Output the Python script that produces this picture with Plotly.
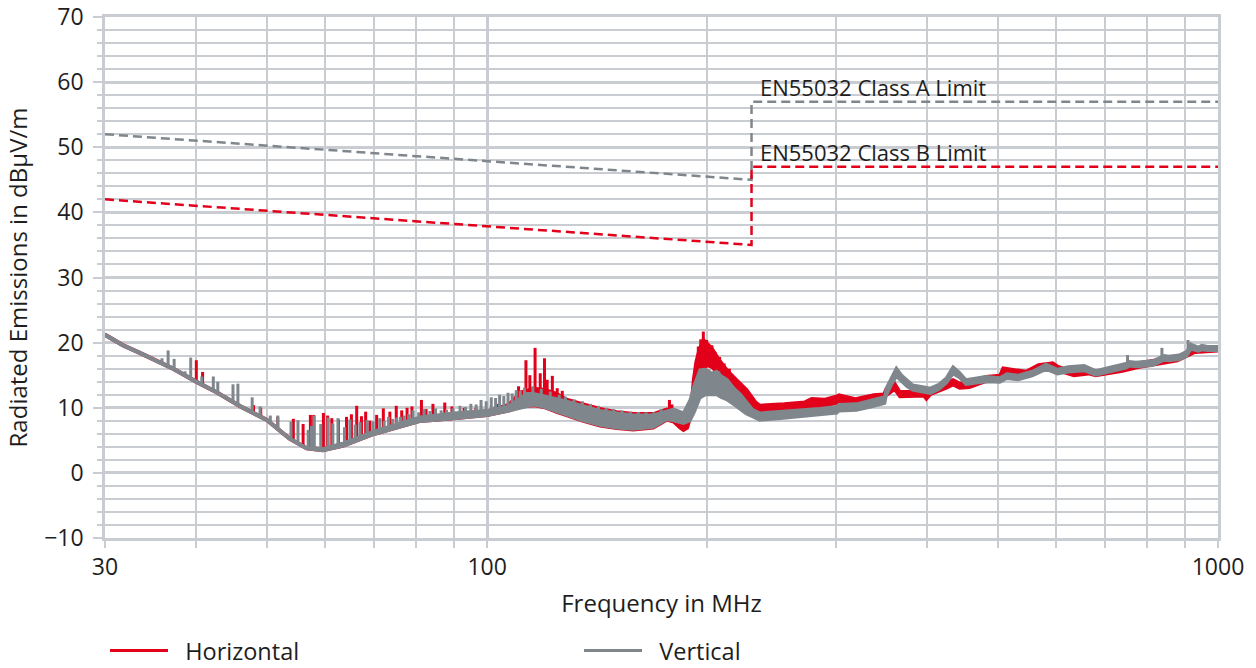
import math
import plotly.graph_objects as go

# ---------------- data ----------------
# Horizontal polarisation (red): band envelope
h_freq = [30, 31.75, 33.5, 35.2, 37.2, 40, 42.6, 46, 50, 53.6, 56.6, 59.6, 63.6, 70, 76, 81, 90, 100, 107,
          111, 116, 120, 124.5, 128.5, 135.4, 142.7, 150.4, 158.5, 168.8, 176.1, 180, 183.5, 185.6, 188, 190,
          191.5, 193, 195, 197.6, 199.7, 203, 208, 213, 219.5, 226.5, 233, 236, 255, 272, 278, 290, 301, 303,
          319, 338, 349, 351, 361, 367, 396, 399, 404, 425, 434, 443, 457, 481, 503, 508, 546, 568, 594, 603,
          635, 665, 680, 740, 780, 830, 880, 930, 1000]
h_high = [21.3, 19.7, 18.5, 17.4, 16.1, 14.1, 12.5, 10.3, 8.2, 5.4, 3.9, 3.7, 4.5, 6.3, 7.4, 8.3, 8.9, 9.5, 10.5,
          12.4, 13.0, 12.8, 12.2, 11.3, 10.6, 9.9, 9.4, 9.1, 9.1, 9.8, 9.6, 8.3, 7.3, 8.0, 10.0,
          14.3, 17.0, 19.0, 20.5, 20.0, 19.2, 17.3, 15.8, 14.3, 12.8, 10.9, 10.4, 10.6, 10.9, 11.4, 11.3, 11.8, 12.0,
          11.4, 12.0, 12.1, 12.8, 13.8, 12.5, 12.5, 12.0, 12.8, 13.8, 14.3, 13.8, 13.8, 14.8, 15.0, 16.1, 15.6, 16.6, 16.9, 16.4,
          15.5, 15.9, 15.5, 16.3, 16.9, 17.4, 17.9, 19.2, 19.3]
h_low = [21.1, 19.5, 18.3, 17.2, 15.9, 13.9, 12.3, 10.1, 8.0, 5.2, 3.7, 3.4, 4.1, 5.9, 7.0, 7.9, 8.3, 8.8, 9.5,
         10.1, 10.3, 10.0, 9.3, 8.8, 7.9, 7.2, 6.8, 6.6, 6.9, 8.1, 7.8, 6.9, 6.5, 6.9, 8.5,
         10.0, 12.0, 13.5, 15.5, 16.5, 16.2, 15.0, 13.8, 12.0, 11.0, 9.6, 9.3, 9.5, 9.7, 10.2, 10.2, 10.7, 10.9,
         10.5, 11.0, 11.2, 11.8, 12.8, 11.7, 11.8, 11.3, 12.0, 13.0, 13.5, 13.0, 13.1, 14.0, 14.2, 15.3, 14.9, 15.8, 16.1, 15.7,
         14.9, 15.2, 14.9, 15.6, 16.2, 16.7, 17.2, 18.5, 18.7]
# Horizontal: narrow emission peaks (frequency, foot, top)
h_spike_freq = [40.0, 40.8, 47.9, 49.0, 51.7, 54.3, 56.0, 57.3, 57.9, 59.7, 60.5, 61.3, 62.6, 64.2, 65.2, 66.3,
                67.3, 68.2, 69.1, 70.6, 72.1, 73.6, 75.1, 76.4, 77.7, 78.9, 81.3, 82.5, 84.3, 87.5, 89.5, 93.0,
                96.5, 103.0, 110.4, 113.0, 114.4, 116.3, 118.2, 119.8, 120.8, 122.8, 124.7, 126.7, 177.6, 179.0,
                194.5, 196.0, 197.6, 199.7, 201.0, 203.0, 205.0, 208.0, 211.0, 214.5]
h_spike_foot = [13.9, 13.4, 9.0, 8.6, 6.9, 4.8, 4.0, 3.6, 3.5, 3.4, 3.5, 3.6, 3.8, 4.3, 4.6, 5.0,
                5.2, 5.5, 5.8, 6.1, 6.5, 6.7, 6.9, 7.1, 7.2, 7.4, 7.9, 8.0, 8.1, 8.2, 8.3, 8.5,
                8.7, 9.1, 11.0, 12.0, 12.0, 12.0, 12.0, 12.0, 12.0, 11.8, 11.5, 11.0, 9.0, 9.0,
                16.0, 17.0, 17.0, 17.0, 17.0, 16.5, 16.0, 15.5, 15.0, 14.0]
h_spike_top = [17.3, 15.5, 10.4, 10.0, 8.6, 8.3, 7.5, 8.9, 8.9, 9.2, 8.8, 8.4, 8.2, 8.6, 9.0, 10.3,
               8.7, 9.4, 8.0, 8.9, 9.9, 9.4, 10.3, 9.6, 10.0, 10.2, 11.2, 9.8, 10.6, 10.8, 10.2, 10.0,
               10.0, 10.6, 13.3, 17.3, 15.0, 19.2, 15.3, 17.6, 14.3, 14.9, 13.0, 12.6, 11.2, 10.5,
               19.4, 20.5, 21.7, 20.4, 19.3, 19.6, 18.6, 17.8, 16.8, 16.0]

# Vertical polarisation (gray): band envelope
v_freq = [30, 31.75, 33.5, 35.2, 37.2, 40, 42.6, 46, 50, 53.6, 56.6, 59.6, 63.6, 70, 76, 81, 90, 100, 107,
          113.3, 115.7, 119.4, 124.5, 128.5, 135.4, 142.7, 150.4, 158.5, 168.8, 176.1, 180, 185.6, 189.5, 192,
          195.5, 199, 203, 206, 209, 213, 218, 222, 226, 231, 236, 250, 272, 285, 301, 303, 320, 335, 350,
          351.5, 357, 363, 369, 375, 382, 396, 404, 415, 425, 434, 443, 452, 481, 503, 514, 533, 557, 582,
          603, 624, 656, 680, 715, 748, 757, 772, 814, 832, 844, 856, 885, 906, 918, 925, 940, 950, 968, 1000]
v_high = [21.3, 19.7, 18.5, 17.4, 16.1, 14.1, 12.5, 10.3, 8.2, 5.4, 3.9, 3.7, 4.6, 6.4, 7.6, 8.6, 9.2, 9.6, 10.2,
          12.2, 12.2, 11.9, 11.4, 11.0, 10.3, 9.6, 9.2, 8.9, 8.9, 9.5, 9.8, 9.2, 11.2, 13.5,
          15.8, 15.9, 15.3, 15.6, 14.9, 14.3, 12.9, 12.1, 11.0, 9.7, 9.2, 9.4, 9.7, 9.9, 10.2, 10.5, 10.6, 11.2, 11.7,
          13.0, 14.5, 16.1, 15.0, 14.3, 13.5, 13.2, 13.0, 13.6, 14.6, 16.3, 15.4, 14.3, 14.8, 14.6, 15.2, 15.0, 15.6, 16.7,
          15.9, 16.3, 16.5, 15.7, 16.3, 16.8, 17.1, 17.0, 17.2, 17.7, 18.0, 17.9, 18.1, 18.6, 19.8, 19.6, 19.3, 19.6, 19.4, 19.4]
v_low = [21.1, 19.5, 18.3, 17.2, 15.9, 13.9, 12.3, 10.1, 8.0, 5.2, 3.7, 3.4, 4.1, 5.9, 7.0, 7.9, 8.3, 8.8, 9.5,
         10.2, 10.4, 10.1, 9.4, 8.9, 8.0, 7.3, 6.9, 6.7, 7.0, 8.2, 8.0, 7.6, 8.0, 9.3,
         11.5, 12.0, 12.0, 12.0, 11.6, 11.2, 10.4, 9.7, 9.1, 8.6, 8.1, 8.3, 8.7, 8.9, 9.2, 9.5, 9.6, 10.1, 10.7,
         11.8, 13.4, 14.8, 14.0, 13.3, 12.7, 12.4, 12.2, 12.8, 13.8, 15.2, 14.6, 13.6, 14.0, 13.9, 14.5, 14.3, 14.9, 15.9,
         15.2, 15.5, 15.7, 15.0, 15.6, 16.1, 16.4, 16.3, 16.5, 17.0, 17.3, 17.2, 17.4, 17.9, 19.0, 18.9, 18.7, 18.9, 18.8, 18.8]
# Vertical: narrow emission peaks (frequency, foot, top)
v_spike_freq = [35.9, 36.6, 37.3, 38.6, 39.3, 40.7, 42.2, 42.8, 44.9, 45.6, 47.7, 48.9, 50.5, 51.7, 53.9, 55.1,
                56.9, 57.5, 58.0, 59.2, 60.6, 61.5, 62.5, 63.8, 64.9, 66.0, 67.0, 68.5, 69.8, 71.3, 72.3, 73.3,
                74.2, 75.2, 76.1, 77.0, 78.1, 79.2, 80.6, 82.0, 83.5, 85.0, 86.5, 88.0, 89.8, 91.8, 93.4, 95.0,
                96.6, 98.1, 99.7, 101.3, 102.7, 104.0, 105.4, 106.8, 108.2, 109.6, 111.0, 112.5, 115.5, 118.6,
                122.0, 125.5, 128.0, 131.5, 135.0, 138.5, 142.0, 145.5, 149.0, 153.0, 157.0, 161.0, 165.0,
                169.0, 173.0, 197.0, 201.0, 204.5, 207.5, 752.0, 838.0, 910.0]
v_spike_foot = [16.9, 16.5, 15.9, 15.1, 14.6, 13.5, 12.6, 12.2, 10.9, 10.5, 9.2, 8.6, 7.7, 6.9, 5.0, 4.4,
                3.7, 3.6, 3.5, 3.4, 3.5, 3.6, 3.8, 4.2, 4.5, 4.8, 5.2, 5.6, 5.9, 6.2, 6.4, 6.6,
                6.8, 6.9, 7.0, 7.1, 7.3, 7.4, 7.7, 7.9, 8.0, 8.0, 8.1, 8.2, 8.3, 8.4, 8.5, 8.6,
                8.7, 8.8, 8.8, 8.9, 9.0, 9.2, 9.3, 9.4, 9.5, 9.7, 9.9, 10.1, 10.3, 10.2,
                9.7, 9.3, 9.0, 8.6, 8.2, 7.9, 7.5, 7.2, 7.0, 6.9, 6.8, 6.8, 6.8,
                7.0, 7.6, 12.5, 12.5, 12.5, 12.5, 16.9, 17.6, 18.6]
v_spike_top = [17.6, 18.8, 17.5, 15.6, 17.7, 14.8, 14.8, 14.0, 13.6, 13.7, 11.6, 10.2, 8.8, 8.8, 7.9, 8.1,
               6.6, 7.2, 8.8, 7.5, 8.5, 7.6, 8.4, 7.0, 8.2, 7.4, 7.8, 8.1, 7.9, 8.4, 8.0, 8.6,
               8.3, 8.5, 8.6, 8.8, 9.0, 9.6, 9.3, 9.8, 9.5, 9.9, 9.6, 9.7, 9.9, 10.3, 10.1, 10.6,
               10.5, 11.2, 11.0, 11.6, 11.5, 12.0, 11.8, 12.3, 12.2, 12.7, 12.6, 13.1, 13.3, 12.9,
               12.5, 12.0, 11.7, 11.3, 11.0, 10.6, 10.3, 10.0, 9.8, 9.6, 9.4, 9.35, 9.3,
               9.3, 9.8, 16.0, 15.9, 15.5, 15.6, 18.1, 19.2, 20.4]

# EN55032 limit lines
limit_freq = [30, 230, 230, 1000]
class_a_limit = [52, 45, 57, 57]
class_b_limit = [42, 35, 47, 47]

x_tick_vals = [30, 100, 1000]
x_tick_text = ["30", "100", "1000"]
x_minor_vals = [40, 50, 60, 70, 80, 90, 200, 300, 400, 500, 600, 700, 800, 900]

# ---------------- styling ----------------
RED = "#e2001a"
GRAY = "#7f878d"
GRID = "#c9ccd0"
TEXT = "#1e1e1e"
FONT = "Open Sans"
LW = 3.0
NBSP = "\u00a0"


def spike_xy(freq, foot, top):
    xs, ys = [], []
    for f, a, b in zip(freq, foot, top):
        xs += [f, f, None]
        ys += [a, b, None]
    return xs, ys


fig = go.Figure()

# Horizontal (red)
fig.add_trace(go.Scatter(x=h_freq, y=h_low, mode="lines", name=NBSP * 2 + "Horizontal",
                         line=dict(color=RED, width=LW), legendgroup="h", showlegend=True))
fig.add_trace(go.Scatter(x=h_freq, y=h_high, mode="lines", fill="tonexty", fillcolor=RED,
                         line=dict(color=RED, width=LW), legendgroup="h", showlegend=False))
hx, hy = spike_xy(h_spike_freq, h_spike_foot, h_spike_top)
fig.add_trace(go.Scatter(x=hx, y=hy, mode="lines", line=dict(color=RED, width=LW),
                         legendgroup="h", showlegend=False))

# Vertical (gray)
fig.add_trace(go.Scatter(x=v_freq, y=v_low, mode="lines", name=NBSP * 2 + "Vertical",
                         line=dict(color=GRAY, width=LW), legendgroup="v", showlegend=True))
fig.add_trace(go.Scatter(x=v_freq, y=v_high, mode="lines", fill="tonexty", fillcolor=GRAY,
                         line=dict(color=GRAY, width=LW), legendgroup="v", showlegend=False))
vx, vy = spike_xy(v_spike_freq, v_spike_foot, v_spike_top)
fig.add_trace(go.Scatter(x=vx, y=vy, mode="lines", line=dict(color=GRAY, width=LW),
                         legendgroup="v", showlegend=False))

# Limits
fig.add_trace(go.Scatter(x=limit_freq, y=class_a_limit, mode="lines", showlegend=False,
                         line=dict(color=GRAY, width=2.5, dash="9px,5px")))
fig.add_trace(go.Scatter(x=limit_freq, y=class_b_limit, mode="lines", showlegend=False,
                         line=dict(color=RED, width=2.5, dash="9px,5px")))

fig.add_annotation(x=math.log10(235), y=59.3, xref="x", yref="y", text="EN55032 Class A Limit",
                   showarrow=False, xanchor="left", yanchor="middle",
                   font=dict(family=FONT, size=22, color=TEXT))
fig.add_annotation(x=math.log10(235), y=49.3, xref="x", yref="y", text="EN55032 Class B Limit",
                   showarrow=False, xanchor="left", yanchor="middle",
                   font=dict(family=FONT, size=22, color=TEXT))

fig.update_xaxes(
    type="log", range=[math.log10(30), math.log10(1000)],
    tickvals=x_tick_vals, ticktext=x_tick_text,
    ticks="outside", ticklen=7, tickwidth=2, tickcolor=GRID,
    showgrid=True, gridcolor=GRID, gridwidth=2.6,
    showline=True, linecolor=GRID, linewidth=2.6, mirror=True,
    zeroline=False,
    tickfont=dict(family=FONT, size=23, color=TEXT),
    title=dict(text="Frequency in MHz", font=dict(family=FONT, size=24, color=TEXT), standoff=14),
    minor=dict(tickvals=x_minor_vals, ticks="outside", ticklen=7, tickwidth=1.6, tickcolor=GRID,
               showgrid=True, gridcolor=GRID, gridwidth=1.6),
)
fig.update_yaxes(
    range=[-10, 70], dtick=10, tick0=0,
    ticks="outside", ticklen=9, tickwidth=2, tickcolor=GRID,
    showgrid=True, gridcolor=GRID, gridwidth=2.6,
    showline=True, linecolor=GRID, linewidth=2.6, mirror=True,
    zeroline=False, ticklabelstandoff=5,
    tickfont=dict(family=FONT, size=23, color=TEXT),
    title=dict(text="Radiated Emissions in dBµV/m", font=dict(family=FONT, size=24, color=TEXT), standoff=10),
    minor=dict(dtick=2, ticks="outside", ticklen=5, tickwidth=1.6, tickcolor=GRID,
               showgrid=True, gridcolor=GRID, gridwidth=1.6),
)

fig.update_layout(
    width=1256, height=668,
    margin=dict(l=105, r=38, t=17, b=130, autoexpand=False),
    paper_bgcolor="white", plot_bgcolor="white",
    font=dict(family=FONT, size=22, color=TEXT),
    legend=dict(orientation="h", x=0, xanchor="left",
                yref="container", y=0.026, yanchor="middle",
                entrywidth=401, itemwidth=58,
                font=dict(family=FONT, size=23.5, color=TEXT)),
)

fig.write_html("out.html", config={"displayModeBar": False},
               post_script="document.body.style.margin='0px';")
